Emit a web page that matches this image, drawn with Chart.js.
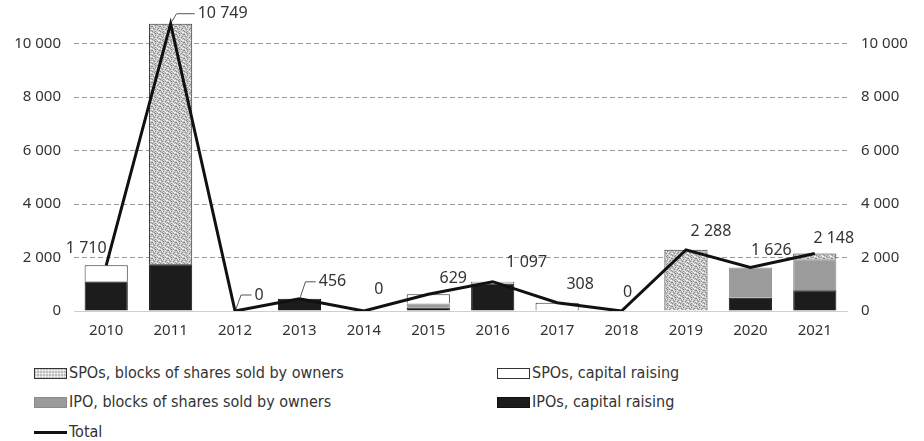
<!DOCTYPE html>
<html>
<head>
<meta charset="utf-8">
<script src="https://cdn.jsdelivr.net/npm/chart.js@4.4.1/dist/chart.umd.min.js"></script>
<style>
    body { margin: 0; background: #fff; }
    #wrap { position: relative; width: 924px; height: 441px; font-family: "Noto Sans", sans-serif; color: #333; }
    #chart { position: absolute; left: 0; top: 0; }
    .leg { position: absolute; font-family: "DejaVu Sans Condensed", sans-serif; font-size: 16px; line-height: 18px; display: flex; align-items: center; white-space: nowrap; }
    .sw { width: 33px; height: 11px; box-sizing: border-box; margin-right: 2px; }
    .sw.dots { border: 1px solid #333; background-color: #bdbdbd;
        background-image: radial-gradient(#f4f4f4 0.9px, transparent 1.2px); background-size: 3px 3px; }
    .sw.white { border: 1px solid #333; background: #fff; }
    .sw.gray { border: 1px solid #8a8a8a; background: #9b9b9b; }
    .sw.black { border: 1px solid #111; background: #1c1c1c; }
    .sw.line { height: 3px; background: #111; }
</style>
</head>
<body>
<div id="wrap">
    <canvas id="chart" width="924" height="357"></canvas>
    <div class="leg" style="left:34px; top:364px;"><div class="sw dots"></div>SPOs, blocks of shares sold by owners</div>
    <div class="leg" style="left:497px; top:364px;"><div class="sw white"></div>SPOs, capital raising</div>
    <div class="leg" style="left:34px; top:393px;"><div class="sw gray"></div>IPO, blocks of shares sold by owners</div>
    <div class="leg" style="left:497px; top:393px;"><div class="sw black"></div>IPOs, capital raising</div>
    <div class="leg" style="left:34px; top:423px;"><div class="sw line"></div>Total</div>
</div>
<script>
// Годы и объёмы размещений
const years = ['2010', '2011', '2012', '2013', '2014', '2015', '2016', '2017', '2018', '2019', '2020', '2021'];
const ipoCapital = [1100, 1750, 0, 456, 0, 130, 1030, 0, 0, 0, 500, 780];
const ipoBlocks = [0, 0, 0, 0, 0, 150, 0, 0, 0, 0, 1126, 1160];
const spoCapital = [610, 0, 0, 0, 0, 349, 67, 308, 0, 0, 0, 0];
const spoBlocks = [0, 8999, 0, 0, 0, 0, 0, 0, 0, 2288, 0, 208];
const totals = [1710, 10749, 0, 456, 0, 629, 1097, 308, 0, 2288, 1626, 2148];
const yTicks = [0, 2000, 4000, 6000, 8000, 10000];

// Смещения подписей итогов относительно точки линии (dx, dy, выноска)
const labelOffsets = [
    [-20, -17, false], [52, -10, true], [24, -16, true], [33, -17, true],
    [15, -22, false], [25, -16, false], [34, -19, false], [23, -18, false],
    [6, -19, false], [25, -18, false], [21, -17, false], [19, -15, false]
];

const fmt = v => String(v).replace(/\B(?=(\d{3})+(?!\d))/g, ' ');

// Крапчатая заливка: серый фон с белыми крапинками
function makeDots() {
    const map = [
        '11211100',
        '10121211',
        '21111012',
        '11021111',
        '12110121',
        '01211210',
        '11101112',
        '21121011'
    ];
    const shades = ['#f4f4f4', '#c6c6c6', '#8a8a8a'];
    const c = document.createElement('canvas');
    c.width = 8; c.height = 8;
    const g = c.getContext('2d');
    map.forEach((row, y) => {
        [...row].forEach((k, x) => {
            g.fillStyle = shades[+k];
            g.fillRect(x, y, 1, 1);
        });
    });
    return g.createPattern(c, 'repeat');
}

const ctx = document.getElementById('chart').getContext('2d');
const dots = makeDots();

// Подписи значений итоговой линии
const totalLabels = {
    id: 'totalLabels',
    afterDatasetsDraw(chart) {
        const meta = chart.getDatasetMeta(4);
        const c = chart.ctx;
        c.save();
        c.font = '16px "Noto Sans"';
        c.fillStyle = '#333';
        c.textAlign = 'center';
        c.textBaseline = 'middle';
        meta.data.forEach((pt, i) => {
            const [dx, dy, leader] = labelOffsets[i];
            const text = fmt(totals[i]);
            const tx = pt.x + dx, ty = pt.y + dy;
            c.fillText(text, tx, ty);
            if (leader) {
                const left = tx - c.measureText(text).width / 2 - 3;
                c.strokeStyle = '#555';
                c.lineWidth = 1;
                c.beginPath();
                c.moveTo(pt.x + 1, pt.y - 2);
                c.lineTo(pt.x + 6, ty);
                c.lineTo(left, ty);
                c.stroke();
            }
        });
        c.restore();
    }
};

const tickFont = { family: 'Noto Sans', size: 15 };

// Фиксированная ширина вертикальной оси без доп. отступа сверху
const fitAxis = w => s => { s.width = w; s.paddingTop = 0; };

new Chart(ctx, {
    data: {
        labels: years,
        datasets: [
            { type: 'bar', label: 'IPOs, capital raising', data: ipoCapital, backgroundColor: '#1c1c1c', borderColor: '#111', borderWidth: 1, stack: 's', order: 1 },
            { type: 'bar', label: 'IPO, blocks of shares sold by owners', data: ipoBlocks, backgroundColor: '#9b9b9b', borderColor: '#8a8a8a', borderWidth: 1, stack: 's', order: 1 },
            { type: 'bar', label: 'SPOs, capital raising', data: spoCapital, backgroundColor: '#ffffff', borderColor: '#333', borderWidth: 1, stack: 's', order: 1 },
            { type: 'bar', label: 'SPOs, blocks of shares sold by owners', data: spoBlocks, backgroundColor: dots, borderColor: '#333', borderWidth: 1, stack: 's', order: 1 },
            { type: 'line', label: 'Total', data: totals, borderColor: '#111', borderWidth: 3, pointRadius: 0, tension: 0, borderJoinStyle: 'miter', stack: 'total', order: 0 }
        ]
    },
    options: {
        responsive: false,
        animation: false,
        layout: { padding: { top: 17, bottom: 6, left: 0, right: 0 } },
        datasets: { bar: { barPercentage: 0.67, categoryPercentage: 1 } },
        plugins: { legend: { display: false }, tooltip: { enabled: false } },
        scales: {
            x: {
                stacked: true,
                grid: { display: false, drawTicks: false },
                border: { display: true, color: '#cfcfcf', width: 1 },
                ticks: { font: tickFont, color: '#333', padding: 11 }
            },
            y: {
                stacked: true,
                min: 0, max: 11000,
                afterBuildTicks: s => { s.ticks = yTicks.map(v => ({ value: v })); },
                afterFit: fitAxis(74),
                grid: { drawTicks: false, color: c => c.tick && c.tick.value === 0 ? 'transparent' : '#9a9a9a' },
                border: { display: false, dash: [5, 3] },
                ticks: { font: tickFont, color: '#333', padding: 13, callback: v => fmt(v) }
            },
            y2: {
                position: 'right',
                min: 0, max: 11000,
                afterBuildTicks: s => { s.ticks = yTicks.map(v => ({ value: v })); },
                afterFit: fitAxis(77),
                grid: { display: false, drawTicks: false },
                border: { display: false },
                ticks: { font: tickFont, color: '#333', padding: 14, callback: v => fmt(v) }
            }
        }
    },
    plugins: [totalLabels]
});
</script>
</body>
</html>
